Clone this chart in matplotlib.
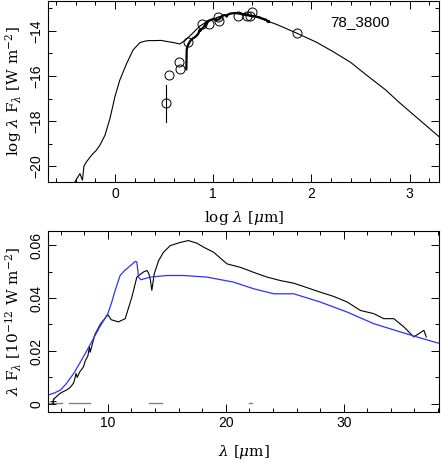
import numpy as np
import matplotlib
matplotlib.use("Agg")
import matplotlib.pyplot as plt
from matplotlib.ticker import MultipleLocator

# --- top panel: model SED (log lambda, log lambda F_lambda)
model_logl = [-0.407, -0.356, -0.33, -0.315, -0.29, -0.237, -0.19, -0.153, -0.10, -0.05,
              0.0, 0.05, 0.12, 0.186, 0.254, 0.30, 0.34, 0.41, 0.47, 0.53, 0.60, 0.66,
              0.72, 0.78, 0.86, 0.95, 1.07, 1.15, 1.24, 1.33, 1.47, 1.65, 1.85,
              2.05, 2.22, 2.40, 2.56, 2.75, 2.90, 3.10, 3.30]
model_logf = [-20.70, -20.33, -20.62, -20.00, -19.81, -19.51, -19.30, -19.07, -18.62, -17.88,
              -16.92, -16.18, -15.44, -14.84, -14.52, -14.46, -14.43, -14.43, -14.42, -14.47,
              -14.52, -14.58,
              -14.40, -14.15, -13.80, -13.55, -13.36, -13.26, -13.20, -13.24, -13.43, -13.72,
              -14.10, -14.50, -14.92, -15.40, -15.96, -16.60, -17.20, -17.95, -18.70]

# photometry points
phot_logl = [0.515, 0.55, 0.654, 0.664, 0.745, 0.89, 0.956, 1.05, 1.06, 1.254, 1.34, 1.37, 1.40, 1.85]
phot_logf = [-17.21, -15.97, -15.39, -15.69, -14.47, -13.70, -13.70, -13.39, -13.54, -13.33,
             -13.36, -13.36, -13.14, -14.10]
err_logl = 0.515
err_lo, err_hi = -18.03, -16.40
label_name = "78_3800"

# --- bottom panel: IRS spectrum (lambda in um, lambda F_lambda in 1e-12 W m^-2)
spec_lam = [5.33, 5.38, 5.5, 5.7, 5.95, 6.2, 6.52, 6.8, 7.08, 7.2, 7.3, 7.4, 7.6, 7.93, 8.1,
            8.3, 8.44, 8.5, 8.9, 9.35,
            10.0, 10.28, 10.9, 11.47, 12.04, 12.46, 13.0, 13.31, 13.45, 13.6, 13.73, 13.93,
            14.3, 14.72, 15.29, 16.14, 16.84, 17.55, 18.12, 18.97, 20.1, 21.23, 22.36,
            23.5, 24.63, 25.76, 26.9, 28.02, 29.15, 30.29, 31.42, 32.55, 33.4, 34.25,
            35.1, 35.94, 36.8, 37.0]
spec_flux = [0.0002, 0.0015, 0.0022, 0.0030, 0.0040, 0.0046, 0.0053, 0.0062, 0.0078, 0.0095,
             0.0115, 0.0100, 0.0120, 0.0140, 0.0165, 0.0180, 0.0215, 0.0195, 0.0262, 0.0300,
             0.0337, 0.0318, 0.0310, 0.0322, 0.0404,
             0.0479, 0.0498, 0.0504, 0.0495, 0.0470, 0.0429, 0.0491, 0.0541, 0.0573, 0.0598,
             0.0610, 0.0617, 0.0607, 0.0592, 0.0573, 0.0529, 0.0516, 0.0497, 0.0479, 0.0466,
             0.0456, 0.0439, 0.0422, 0.0406, 0.0385, 0.0353, 0.0341, 0.0322, 0.0322, 0.0291,
             0.0253, 0.0278, 0.0253]

fit_lam = [4.96, 5.5, 6.0, 6.5, 7.1, 7.5, 8.0, 8.5, 8.85, 9.3, 10.0, 10.3, 10.62, 11.04, 11.4,
           11.75, 12.32, 12.46, 12.6, 12.8, 13.6, 15.0, 16.42, 18.4, 20.66, 22.36, 24.06,
           25.76, 28.0, 30.29, 32.55, 34.8, 36.2, 38.15]
fit_flux = [0.0034, 0.0042, 0.0053, 0.0078, 0.0115, 0.0145, 0.0184, 0.0224, 0.0253, 0.0290,
            0.0341, 0.0380, 0.0429, 0.0485, 0.0503, 0.0516, 0.0538, 0.0536, 0.0479, 0.0469,
            0.0479, 0.0485, 0.0485, 0.0479, 0.0460, 0.0435, 0.0416, 0.0416, 0.0385, 0.0347,
            0.0303, 0.0272, 0.0253, 0.0228]

# grey segments near zero
seg_lam = [(5.0, 6.1), (6.7, 8.45), (13.5, 14.6), (22.0, 22.2)]
seg_level = 0.0005

tickfont = {'family': 'Liberation Sans', 'size': 10}
labfont = {'family': 'DejaVu Serif', 'size': 11}
plt.rcParams['mathtext.fontset'] = 'dejavuserif'


def style_axes(ax):
    ax.tick_params(which='both', direction='in', top=True, right=True, width=0.7)
    ax.tick_params(which='major', length=6)
    ax.tick_params(which='minor', length=3)
    for s in ax.spines.values():
        s.set_linewidth(0.8)
    for t in ax.get_xticklabels():
        t.set_fontproperties(tickfont)
    for t in ax.get_yticklabels():
        t.set_fontproperties(tickfont)
        t.set_rotation(90)
        t.set_va('center')


fig = plt.figure(figsize=(4.41, 4.63), dpi=100)

ax1 = fig.add_axes([0.109, 0.607, 0.887, 0.391])
ax1.plot(model_logl, model_logf, color='black', lw=0.8)
sl = np.log10(spec_lam)
sf = np.log10(np.array(spec_flux) * 1e-12)
ax1.plot(sl, sf, color='black', lw=1.6)
ax1.plot([err_logl, err_logl], [err_lo, err_hi], color='black', lw=0.8)
ax1.plot(phot_logl, phot_logf, 'o', mfc='none', mec='black', ms=6.5, mew=0.7)
ax1.text(2.49, -13.6, label_name, fontsize=11, family='Liberation Sans', ha='center', va='center')
ax1.set_xlim(-0.68, 3.3)
ax1.set_ylim(-20.7, -12.67)
ax1.xaxis.set_major_locator(MultipleLocator(1))
ax1.xaxis.set_minor_locator(MultipleLocator(0.2))
ax1.yaxis.set_major_locator(MultipleLocator(2))
ax1.yaxis.set_minor_locator(MultipleLocator(1))
ax1.set_xlabel(r'log $\lambda$ [$\mu$m]', fontdict=labfont, labelpad=6)
ax1.set_ylabel(r'log $\lambda$ F$_\lambda$ [W m$^{-2}$]', fontdict=labfont, labelpad=4)
style_axes(ax1)

ax2 = fig.add_axes([0.109, 0.111, 0.887, 0.390])
for a, b in seg_lam:
    ax2.plot([a, b], [seg_level, seg_level], color='grey', lw=1.0)
ax2.plot(spec_lam, spec_flux, color='black', lw=0.8)
ax2.plot([spec_lam[0]], [0.001], '+', color='black', ms=5, mew=0.7)
ax2.plot(fit_lam, fit_flux, color='#3030ff', lw=0.9)
ax2.set_xlim(4.93, 38.1)
ax2.set_ylim(-0.0029, 0.0653)
ax2.xaxis.set_major_locator(MultipleLocator(10))
ax2.xaxis.set_minor_locator(MultipleLocator(2))
ax2.yaxis.set_major_locator(MultipleLocator(0.02))
ax2.yaxis.set_minor_locator(MultipleLocator(0.01))
ax2.yaxis.set_major_formatter(plt.FuncFormatter(lambda v, p: '0' if abs(v) < 1e-9 else f'{v:g}'))
ax2.set_xlabel(r'$\lambda$ [$\mu$m]', fontdict=labfont, labelpad=9)
ax2.set_ylabel(r'$\lambda$ F$_\lambda$ [10$^{-12}$ W m$^{-2}$]', fontdict=labfont, labelpad=4)
style_axes(ax2)

fig.savefig('out.png', dpi=100)
